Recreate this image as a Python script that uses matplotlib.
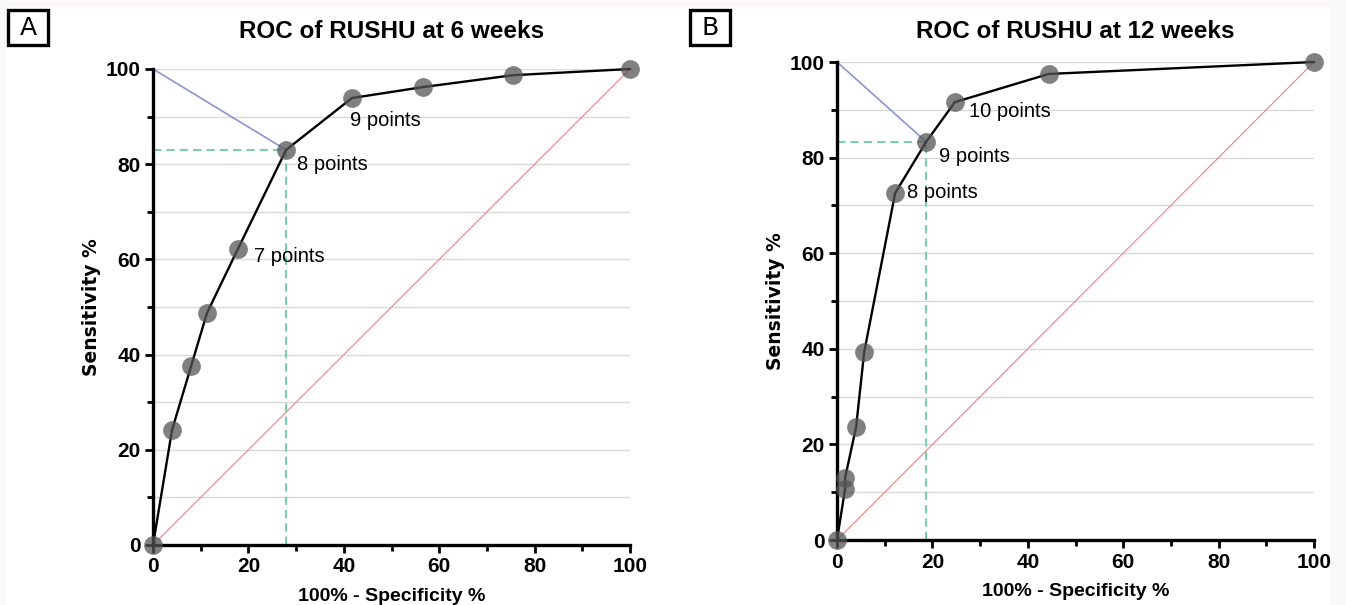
import matplotlib.pyplot as plt
import matplotlib.patches as patches
from matplotlib.ticker import MultipleLocator

plt.rcParams["font.family"] = ["Liberation Sans Narrow", "Liberation Sans", "DejaVu Sans"]

# panel A: 6 weeks
fpr_6 = [0, 4.0, 8.0, 11.3, 17.8, 27.9, 41.7, 56.6, 75.5, 100]
tpr_6 = [0, 24.2, 37.6, 48.7, 62.2, 83.0, 93.9, 96.2, 98.7, 100]
cut_6 = (27.9, 83.0)
notes_6 = [("7 points", 17.8, 62.2), ("8 points", 27.9, 83.0), ("9 points", 41.7, 93.9)]

# panel B: 12 weeks
fpr_12 = [0, 1.7, 1.7, 4.0, 5.7, 12.2, 18.7, 24.7, 44.4, 100]
tpr_12 = [0, 10.7, 13.0, 23.6, 39.3, 72.6, 83.3, 91.6, 97.5, 100]
cut_12 = (18.7, 83.3)
notes_12 = [("8 points", 12.2, 72.6), ("9 points", 18.7, 83.3), ("10 points", 24.7, 91.6)]

# label offsets from their point, in pixels (layout only)
offs_6 = [(16, -8), (11, -15), (-2, -22)]
offs_12 = [(12, 0), (13, -15), (14, -9)]


def draw_roc(ax, fpr, tpr, cut, notes, offs, title):
    ax.set_xlim(0, 100)
    ax.set_ylim(0, 100)
    ax.xaxis.set_major_locator(MultipleLocator(20))
    ax.xaxis.set_minor_locator(MultipleLocator(10))
    ax.yaxis.set_major_locator(MultipleLocator(20))
    ax.yaxis.set_minor_locator(MultipleLocator(10))
    ax.grid(True, which="both", axis="y", color="#d9d9d9", lw=1.0)
    ax.set_axisbelow(True)
    for s in ("top", "right"):
        ax.spines[s].set_visible(False)
    for s in ("left", "bottom"):
        ax.spines[s].set_linewidth(2.4)
    ax.tick_params(which="major", length=6, width=2, labelsize=15, pad=3)
    ax.tick_params(which="minor", length=4, width=2)
    for lab in ax.get_xticklabels() + ax.get_yticklabels():
        lab.set_fontweight("bold")

    ax.plot([0, 100], [0, 100], color="#f08080", lw=0.8, zorder=2)
    ax.plot([0, cut[0]], [100, cut[1]], color="#8a94d0", lw=1.2, zorder=2)
    ax.plot([0, cut[0]], [cut[1], cut[1]], color="#5cc79a", lw=1.2, ls=(0, (5, 3)), zorder=2)
    ax.plot([cut[0], cut[0]], [0, cut[1]], color="#5cc79a", lw=1.2, ls=(0, (5, 3)), zorder=2)
    ax.plot(fpr, tpr, color="black", lw=1.7, zorder=3, clip_on=False)
    ax.plot(fpr, tpr, "o", ms=13.5, color="#555555", alpha=0.75, mec="none",
            zorder=4, clip_on=False)

    for (text, x, y), (dx, dy) in zip(notes, offs):
        ax.annotate(text, (x, y), xytext=(dx * 0.72, dy * 0.72), textcoords="offset points",
                    fontsize=14.5, va="center", ha="left", zorder=5)

    pos = ax.get_position()
    fig.text((pos.x0 + pos.x1) / 2, 1 - 31 / 605, title, fontsize=17.5,
             fontweight="bold", ha="center", va="center")
    ax.set_xlabel("100% - Specificity %", fontsize=14, fontweight="bold", labelpad=8)
    ax.set_ylabel("Sensitivity %", fontsize=13.5, fontweight="bold", labelpad=3,
                  family=["DejaVu Sans"])


fig = plt.figure(figsize=(13.46, 6.05), dpi=100, facecolor="#faf8f8")
fig.patches.append(patches.Rectangle((5 / 1346, 0), 1325 / 1346, 1 - 7 / 605,
                                     transform=fig.transFigure, color="white", zorder=-5))

ax_a = fig.add_axes([153 / 1346, 1 - 545 / 605, 477 / 1346, 476 / 605])
ax_b = fig.add_axes([837 / 1346, 1 - 540 / 605, 477 / 1346, 478 / 605])
draw_roc(ax_a, fpr_6, tpr_6, cut_6, notes_6, offs_6, "ROC of RUSHU at 6 weeks")
draw_roc(ax_b, fpr_12, tpr_12, cut_12, notes_12, offs_12, "ROC of RUSHU at 12 weeks")

for label, x0 in (("A", 8), ("B", 690)):
    fig.patches.append(patches.Rectangle((x0 / 1346, 1 - 45 / 605), 40 / 1346, 35 / 605,
                                         transform=fig.transFigure, fc="white",
                                         ec="black", lw=2.4))
    fig.text((x0 + 20) / 1346, 1 - 28 / 605, label, fontsize=18, ha="center", va="center",
             family=["DejaVu Sans"])

fig.savefig("out.png", dpi=100, facecolor=fig.get_facecolor())
